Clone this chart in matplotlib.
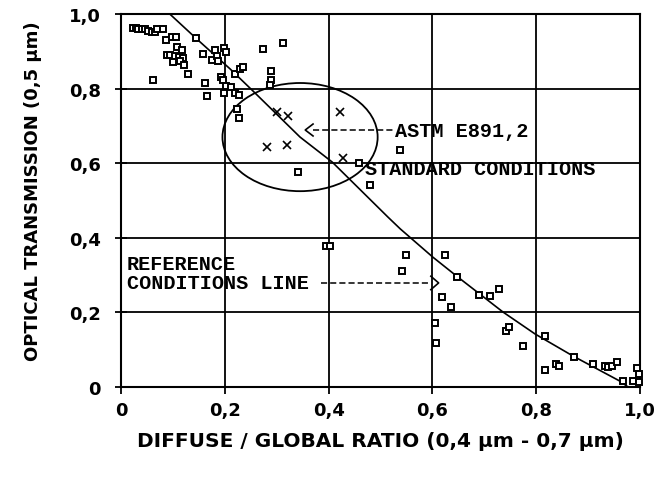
import matplotlib
matplotlib.use("Agg")
import matplotlib.pyplot as plt
from matplotlib.patches import Ellipse
from matplotlib.ticker import FixedLocator

# ---- data ----
sq_x = [0.023, 0.029, 0.033, 0.040, 0.046, 0.052, 0.060, 0.066, 0.069, 0.081,
        0.087, 0.098, 0.106, 0.145, 0.108, 0.118, 0.089, 0.094, 0.104, 0.112,
        0.119, 0.100, 0.114, 0.121, 0.129, 0.062, 0.158, 0.181, 0.175, 0.185,
        0.187, 0.198, 0.202, 0.193, 0.197, 0.162, 0.166, 0.202, 0.212, 0.198,
        0.220, 0.229, 0.235, 0.220, 0.227, 0.224, 0.227, 0.274, 0.289, 0.289,
        0.287, 0.312,
        0.538, 0.459, 0.341, 0.480, 0.395, 0.403,
        0.549, 0.541, 0.624, 0.647, 0.618, 0.636, 0.690, 0.711, 0.728, 0.605,
        0.607, 0.742, 0.748, 0.775, 0.817, 0.817, 0.838, 0.844, 0.873, 0.909,
        0.933, 0.938, 0.946, 0.956, 0.967, 0.987, 0.994, 0.998, 0.998]
sq_y = [0.962, 0.962, 0.959, 0.959, 0.959, 0.954, 0.952, 0.952, 0.959, 0.959,
        0.930, 0.938, 0.938, 0.936, 0.912, 0.903, 0.890, 0.890, 0.887, 0.885,
        0.882, 0.871, 0.874, 0.863, 0.839, 0.823, 0.893, 0.903, 0.877, 0.887,
        0.874, 0.909, 0.898, 0.831, 0.823, 0.815, 0.780, 0.807, 0.804, 0.788,
        0.839, 0.853, 0.858, 0.788, 0.783, 0.745, 0.721, 0.906, 0.847, 0.823,
        0.810, 0.922,
        0.635, 0.601, 0.576, 0.542, 0.378, 0.378,
        0.354, 0.311, 0.354, 0.295, 0.241, 0.214, 0.247, 0.244, 0.263, 0.172,
        0.118, 0.150, 0.161, 0.110, 0.137, 0.046, 0.062, 0.056, 0.080, 0.062,
        0.056, 0.054, 0.056, 0.067, 0.016, 0.016, 0.051, 0.035, 0.013]

astm_x = [0.301, 0.322, 0.422, 0.281, 0.320, 0.428]
astm_y = [0.737, 0.727, 0.737, 0.643, 0.649, 0.614]

ref_x = [0.094, 0.146, 0.210, 0.254, 0.345, 0.407, 0.514, 0.538, 0.601,
         0.647, 0.736, 0.798, 0.871, 0.961, 0.977]
ref_y = [1.000, 0.933, 0.853, 0.794, 0.670, 0.603, 0.456, 0.424, 0.348,
         0.297, 0.201, 0.142, 0.083, 0.016, 0.000]

ticks = [0, 0.2, 0.4, 0.6, 0.8, 1.0]
tick_labels = ["0", "0,2", "0,4", "0,6", "0,8", "1,0"]

# ---- figure ----
fig = plt.figure(figsize=(6.71, 4.81), dpi=100)
ax = fig.add_axes([121/671, 1-388/481, 519/671, 373/481])
ax.set_xlim(0, 1.0)
ax.set_ylim(0, 1.0)

for v in [0.2, 0.4, 0.6, 0.8]:
    ax.axhline(v, color="black", lw=1.3, zorder=1)
    ax.axvline(v, color="black", lw=1.3, zorder=1)

ax.plot(ref_x, ref_y, color="black", lw=1.2, zorder=2)
ax.plot(sq_x, sq_y, linestyle="none", marker="s", markersize=4.6,
        markerfacecolor="white", markeredgecolor="black", markeredgewidth=1.4,
        zorder=3, clip_on=False)
ax.plot(astm_x, astm_y, linestyle="none", marker="x", markersize=5.5,
        color="black", markeredgewidth=1.2, zorder=3)

ell = Ellipse((0.345, 0.670), 0.299, 0.290, fill=False, edgecolor="black",
              lw=1.3, zorder=2)
ax.add_patch(ell)

mono = dict(family="Liberation Mono", fontweight="bold", fontsize=14.5,
            color="black")
# ASTM annotation
ax.text(0.527, 0.689, "ASTM E891,2", ha="left", va="center", zorder=4, **mono)
ax.plot([0.37, 0.524], [0.689, 0.689], color="black", lw=1.1,
        linestyle=(0, (4, 2)), zorder=4)
ax.plot([0.37, 0.355, 0.37], [0.705, 0.689, 0.673], color="black", lw=1.2,
        zorder=4)
ax.text(0.470, 0.587, "STANDARD CONDITIONS", ha="left", va="center",
        zorder=4, **mono)

# Reference line annotation
ax.text(0.011, 0.330, "REFERENCE", ha="left", va="center", zorder=4, **mono)
ax.text(0.011, 0.279, "CONDITIONS LINE", ha="left", va="center", zorder=4,
        **mono)
ax.plot([0.385, 0.596], [0.279, 0.279], color="black", lw=1.1,
        linestyle=(0, (4, 2)), zorder=4)
ax.plot([0.597, 0.612, 0.597], [0.297, 0.279, 0.261], color="black", lw=1.2,
        zorder=4)

for s in ax.spines.values():
    s.set_linewidth(1.5)
    s.set_color("black")

sans = "DejaVu Sans"
ax.xaxis.set_major_locator(FixedLocator(ticks))
ax.yaxis.set_major_locator(FixedLocator(ticks))
ax.set_xticklabels(tick_labels, fontsize=13, fontweight="bold", family=sans)
ax.set_yticklabels(tick_labels, fontsize=13, fontweight="bold", family=sans)
ax.tick_params(axis="x", direction="out", length=5, width=1.3, pad=5)
ax.tick_params(axis="y", direction="inout", length=9, width=1.3, pad=10)

ax.set_xlabel("DIFFUSE / GLOBAL RATIO (0,4 µm - 0,7 µm)", fontsize=14.5,
              fontweight="bold", family=sans, labelpad=9)
ax.set_ylabel("OPTICAL TRANSMISSION (0,5 µm)", fontsize=13,
              fontweight="bold", family=sans)
ax.yaxis.set_label_coords(-79/519, 0.528)

fig.savefig("out.png", dpi=100)
